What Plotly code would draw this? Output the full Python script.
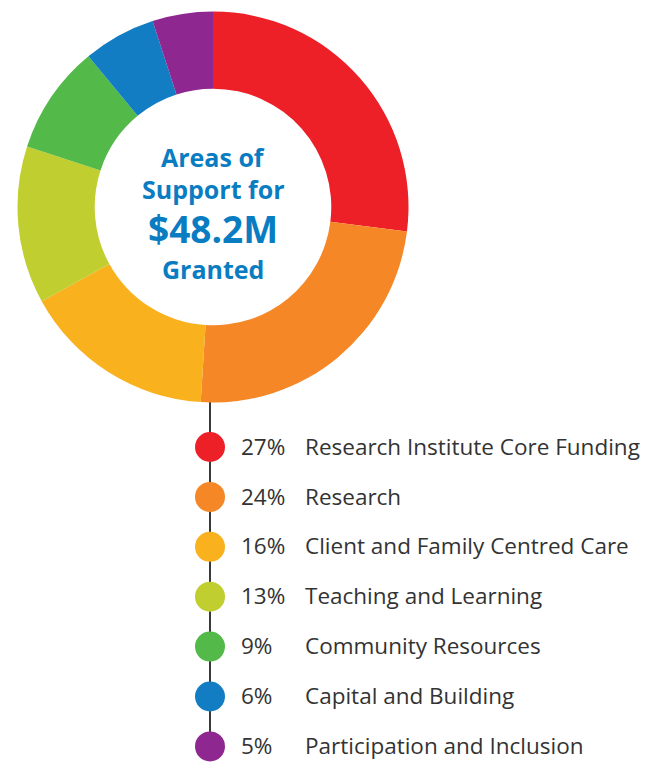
import plotly.graph_objects as go

# page body adds an 8px offset; figure covers the rest of the window
OFF = 8
W, H = 648 - OFF, 762 - OFF

categories = ["Research Institute Core Funding", "Research", "Client and Family Centred Care",
              "Teaching and Learning", "Community Resources", "Capital and Building",
              "Participation and Inclusion"]
percents = [27, 24, 16, 13, 9, 6, 5]
colors = ["#ED1F27", "#F58726", "#F9B11E", "#C0CE30", "#53B948", "#127DC2", "#8E278F"]
center_lines = ["Areas of", "Support for", "$48.2M", "Granted"]
center_sizes = [25, 25, 37, 25]

fig = go.Figure()

# donut (positions in window pixels)
cx, cy, R = 213, 207, 195.5
fig.add_trace(go.Pie(
    values=percents, labels=categories, sort=False, direction="clockwise", rotation=0,
    hole=0.605, marker=dict(colors=colors, line=dict(width=0)),
    textinfo="none", hoverinfo="label+percent", showlegend=False,
    domain=dict(x=[(cx - R - OFF) / W, (cx + R - OFF) / W],
                y=[1 - (cy + R - OFF) / H, 1 - (cy - R - OFF) / H]),
))

# legend column
dot_x = 210
y0, step = 447, 49.9
ys = [y0 + i * step for i in range(len(categories))]
text_dy = 2

fig.add_trace(go.Scatter(
    x=[dot_x, dot_x], y=[cy + R - 2, ys[-1]], mode="lines",
    line=dict(color="#3a3a3a", width=2), hoverinfo="skip", showlegend=False,
))
fig.add_trace(go.Scatter(
    x=[dot_x] * len(categories), y=ys, mode="markers",
    marker=dict(size=30, color=colors, line=dict(width=0)),
    text=categories, hoverinfo="text", showlegend=False,
))
fig.add_trace(go.Scatter(
    x=[241] * len(categories), y=[y + text_dy for y in ys], mode="text",
    text=[f"{p}%" for p in percents], textposition="middle right",
    textfont=dict(family="Open Sans", size=22.5, color="#333333"),
    hoverinfo="skip", showlegend=False,
))
fig.add_trace(go.Scatter(
    x=[305] * len(categories), y=[y + text_dy for y in ys], mode="text",
    text=categories, textposition="middle right",
    textfont=dict(family="Open Sans", size=22.5, color="#333333"),
    hoverinfo="skip", showlegend=False,
))

# center text
center_y = [157, 189, 228.5, 268.5]
for t, y, s in zip(center_lines, center_y, center_sizes):
    fig.add_annotation(x=cx, y=y, xref="x", yref="y", text=f"<b>{t}</b>", showarrow=False,
                       font=dict(family="Open Sans", size=s, color="#0A7DC2"),
                       xanchor="center", yanchor="middle")

fig.update_layout(
    width=W, height=H, margin=dict(l=0, r=0, t=0, b=0),
    paper_bgcolor="white", plot_bgcolor="rgba(0,0,0,0)",
    xaxis=dict(range=[OFF, 648], visible=False, fixedrange=True),
    yaxis=dict(range=[762, OFF], visible=False, fixedrange=True),
)

fig.write_html("out.html")
